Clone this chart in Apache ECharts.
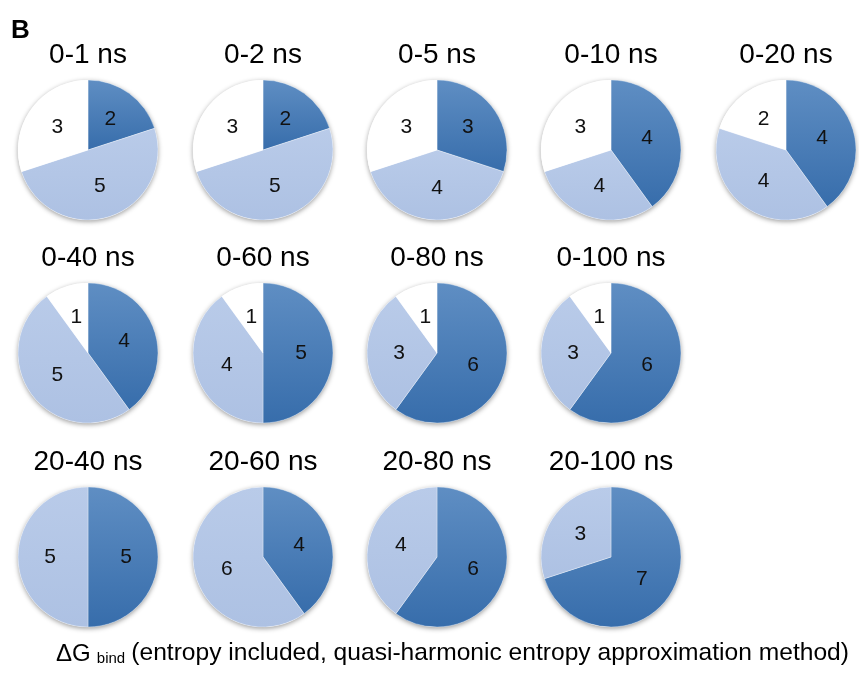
<!DOCTYPE html>
<html><head><meta charset="utf-8">
<script src="https://cdn.jsdelivr.net/npm/echarts@6/dist/echarts.min.js"></script>
<style>html,body{margin:0;padding:0;background:#fff}#c{width:859px;height:679px}</style>
</head><body><div id="c"></div>
<script>
// ---- data ----
const periods = ['0-1 ns','0-2 ns','0-5 ns','0-10 ns','0-20 ns','0-40 ns','0-60 ns','0-80 ns','0-100 ns','20-40 ns','20-60 ns','20-80 ns','20-100 ns'];
const darkValues  = [2,2,3,4,4,4,5,6,6,5,4,6,7];
const lightValues = [5,5,4,3,4,5,4,3,3,5,6,4,3];   // slice sizes as drawn
const lightLabels = [5,5,4,4,4,5,4,3,3,5,6,4,3];   // numbers printed in the slices
const whiteValues = [3,3,3,3,2,1,1,1,1,0,0,0,0];
const panelLetter = 'B';
const footMain = 'ΔG';
const footSub = 'bind';
const footRest = '(entropy included, quasi-harmonic entropy approximation method)';

// ---- layout ----
const colX = [88, 263, 437, 611, 786];
const rowY = [150, 353, 557];
const rowOf = [0,0,0,0,0,1,1,1,1,2,2,2,2];
const colOf = [0,1,2,3,4,0,1,2,3,0,1,2,3];
const R = 70;
const FONT = '"Liberation Sans", Arial, Helvetica, sans-serif';

const darkColor = {type:'linear', x:0, y:0, x2:0, y2:1, colorStops:[{offset:0,color:'#5f8ec3'},{offset:1,color:'#376dab'}]};
const lightColor = {type:'linear', x:0, y:0, x2:0, y2:1, colorStops:[{offset:0,color:'#b9cbe9'},{offset:1,color:'#adc1e3'}]};

const series = [];
const graphic = [];
periods.forEach((p, i) => {
  const cx = colX[colOf[i]], cy = rowY[rowOf[i]];
  const total = darkValues[i] + lightValues[i] + whiteValues[i];
  // underlay for the soft outer shadow
  series.push({
    type:'pie', z:1, silent:true, center:[cx, cy], radius:R, startAngle:90,
    label:{show:false}, labelLine:{show:false}, emphasis:{disabled:true},
    itemStyle:{color:'#ffffff', shadowBlur:5, shadowColor:'rgba(0,0,0,0.4)', shadowOffsetY:1.5},
    data:[{value: total, name:'all'}]
  });
  const data = [];
  if (darkValues[i] > 0) data.push({value:darkValues[i], name:'dark', txt:String(darkValues[i]), itemStyle:{color:darkColor}});
  if (lightValues[i] > 0) data.push({value:lightValues[i], name:'light', txt:String(lightLabels[i]), itemStyle:{color:lightColor}});
  if (whiteValues[i] > 0) data.push({value:whiteValues[i], name:'white', txt:String(whiteValues[i]), itemStyle:{color:'#ffffff'}});
  series.push({
    type:'pie', z:2, center:[cx, cy], radius:R, startAngle:90, clockwise:true,
    emphasis:{disabled:true}, labelLine:{show:false},
    itemStyle:{borderColor:'rgba(255,255,255,0.55)', borderWidth:0.6},
    label:{show:true, position:'inside', formatter: q => q.data.txt, fontSize:21, color:'#111', fontFamily:FONT},
    data
  });
  graphic.push({type:'text', x:cx, y:cy - 95, style:{text:p, fontSize:28, fontFamily:FONT, fill:'#000', align:'center', verticalAlign:'middle'}});
});
graphic.push({type:'text', x:11, y:31, style:{text:panelLetter, fontSize:26, fontWeight:'bold', fontFamily:FONT, fill:'#000', align:'left', verticalAlign:'middle'}});
graphic.push({type:'text', x:56, y:651, style:{
  text:'{d|' + footMain + '} {s|' + footSub + '} {m|' + footRest + '}',
  fontFamily:FONT, fontSize:22, fill:'#000', align:'left', verticalAlign:'middle',
  rich:{
    d:{fontSize:24, lineHeight:30, verticalAlign:'bottom', fontFamily:FONT},
    s:{fontSize:15, lineHeight:14, verticalAlign:'bottom', fontFamily:FONT},
    m:{fontSize:24.6, lineHeight:30, verticalAlign:'bottom', fontFamily:FONT}
  }
}});

const chart = echarts.init(document.getElementById('c'), null, {renderer:'canvas'});
chart.setOption({animation:false, backgroundColor:'#fff', series, graphic});
</script></body></html>
